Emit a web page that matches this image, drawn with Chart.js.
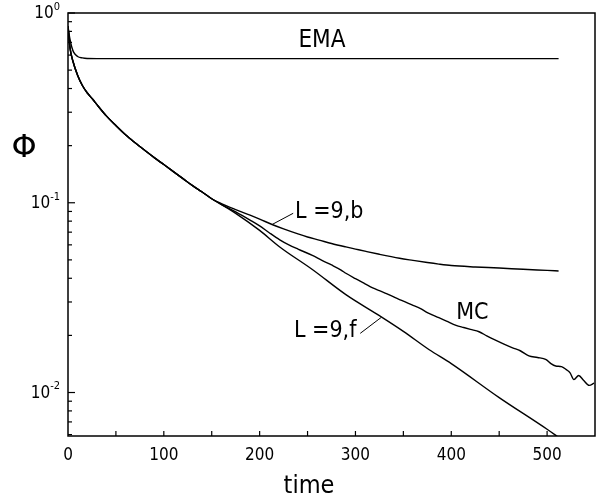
<!DOCTYPE html>
<html>
<head>
<meta charset="utf-8">
<script src="https://cdn.jsdelivr.net/npm/chart.js@4"></script>
<style>
  html, body { margin: 0; background: #fff; }
</style>
</head>
<body>
<canvas id="chart" width="597" height="500"></canvas>
<script>
// Curve data (time, phi)
const emaTime = [0, 2, 4, 6, 10, 15, 20, 30, 100, 200, 300, 400, 512];
const emaPhi = [0.85, 0.73, 0.66, 0.62, 0.59, 0.58, 0.576, 0.575, 0.575, 0.575, 0.575, 0.575, 0.575];

// common early part shared by MC and the two L=9 curves
const commonTime = [0, 2, 5, 10, 15, 20, 26, 30, 40, 50, 60, 70, 80, 90, 100, 110, 120, 130, 140];
const commonPhi = [0.85, 0.66, 0.56, 0.47, 0.415, 0.38, 0.35, 0.33, 0.287, 0.255, 0.228, 0.207, 0.189, 0.173, 0.159, 0.146, 0.134, 0.123, 0.114];

const bTime = [150, 160, 175, 190, 200, 213, 225, 240, 250, 262, 275, 290, 300, 311, 325, 346, 360, 375, 387, 400, 425, 450, 475, 500, 512];
const bPhi = [0.105, 0.099, 0.092, 0.086, 0.082, 0.0768, 0.0728, 0.0685, 0.066, 0.0636, 0.061, 0.0585, 0.057, 0.0554, 0.0535, 0.051, 0.0497, 0.0484, 0.0475, 0.0467, 0.0459, 0.0453, 0.0446, 0.044, 0.0437];

const mcTime = [150, 160, 175, 190, 200, 210, 221, 230, 240, 255, 265, 275, 285, 290, 300, 310, 318, 325, 333, 340, 350, 359, 368, 375, 387, 395, 405, 413, 420, 429, 437, 445, 455, 464, 472, 481, 490, 499, 504, 509, 515, 520, 524, 528, 533, 538, 544, 549];
const mcPhi = [0.105, 0.098, 0.0895, 0.081, 0.0755, 0.0695, 0.0638, 0.0602, 0.057, 0.0528, 0.0497, 0.047, 0.0442, 0.0425, 0.0398, 0.0374, 0.0356, 0.0344, 0.0331, 0.0319, 0.0303, 0.029, 0.0277, 0.0264, 0.0248, 0.0238, 0.0226, 0.022, 0.0215, 0.0209, 0.0199, 0.019, 0.018, 0.0172, 0.0166, 0.0156, 0.0153, 0.0149, 0.0142, 0.0138, 0.0137, 0.0132, 0.0127, 0.0117, 0.0123, 0.0116, 0.0109, 0.0112];

const fTime = [150, 175, 200, 221, 255, 290, 325, 350, 377, 400, 450, 500, 512];
const fPhi = [0.105, 0.088, 0.0715, 0.0585, 0.0445, 0.0328, 0.0254, 0.021, 0.0168, 0.0142, 0.0094, 0.0064, 0.0058];

const xTicks = [0, 100, 200, 300, 400, 500];
const yDecades = [0, -1, -2];

const FONT = '"Liberation Sans Narrow", "DejaVu Sans Condensed", sans-serif';

function toPoints(ts, ys) {
    return ts.map((t, i) => ({ x: t, y: ys[i] }));
}

function lineSet(label, ts, ys) {
    return {
        label: label,
        data: toPoints(ts, ys),
        borderColor: '#000',
        borderWidth: 1.4,
        pointRadius: 0,
        cubicInterpolationMode: 'monotone',
        fill: false
    };
}

const allTime = t => commonTime.concat(t);
const allPhi = p => commonPhi.concat(p);

// frame, inward ticks, labels and leaders
const decorPlugin = {
    id: 'decor',
    afterDraw(chart) {
        const ctx = chart.ctx;
        const area = chart.chartArea;
        const xs = chart.scales.x;
        const ys = chart.scales.y;
        ctx.save();
        ctx.strokeStyle = '#000';
        ctx.lineWidth = 1.5;
        ctx.strokeRect(area.left, area.top, area.right - area.left, area.bottom - area.top);

        // x ticks every 50, pointing up
        ctx.lineWidth = 1.2;
        for (let t = 50; t < 550; t += 50) {
            const px = xs.getPixelForValue(t);
            ctx.beginPath();
            ctx.moveTo(px, area.bottom);
            ctx.lineTo(px, area.bottom - 5);
            ctx.stroke();
        }
        // y log ticks, pointing right
        for (let d = -3; d <= 0; d++) {
            for (let m = 1; m <= 9; m++) {
                const v = m * Math.pow(10, d);
                if (v < ys.min || v > ys.max) continue;
                const py = ys.getPixelForValue(v);
                ctx.beginPath();
                ctx.moveTo(area.left, py);
                ctx.lineTo(area.left + (m === 1 ? 7 : 4), py);
                ctx.stroke();
            }
        }

        ctx.fillStyle = '#000';
        ctx.textBaseline = 'middle';

        // y tick labels with raised exponents
        yDecades.forEach(d => {
            const py = ys.getPixelForValue(Math.pow(10, d));
            const exp = d === 0 ? '0' : '-' + (-d);
            ctx.font = '11px ' + FONT;
            const ew = ctx.measureText(exp).width;
            const ex = area.left - 8 - ew;
            ctx.textAlign = 'left';
            ctx.fillText(exp, ex, py - 6);
            ctx.font = '17px ' + FONT;
            ctx.textAlign = 'right';
            ctx.fillText('10', ex, py + 1);
        });

        ctx.font = '24px ' + FONT;
        ctx.textAlign = 'center';
        ctx.fillText('EMA', xs.getPixelForValue(265), ys.getPixelForValue(0.713));
        ctx.font = '23px ' + FONT;
        ctx.fillText('MC', xs.getPixelForValue(422), ys.getPixelForValue(0.0262));
        ctx.textAlign = 'left';
        ctx.fillText('L =9,b', xs.getPixelForValue(237), ys.getPixelForValue(0.0897));
        ctx.textAlign = 'right';
        ctx.fillText('L =9,f', xs.getPixelForValue(301), ys.getPixelForValue(0.0211));

        // leader lines
        ctx.lineWidth = 1;
        ctx.beginPath();
        ctx.moveTo(xs.getPixelForValue(213), ys.getPixelForValue(0.0768));
        ctx.lineTo(xs.getPixelForValue(235), ys.getPixelForValue(0.088));
        ctx.moveTo(xs.getPixelForValue(305), ys.getPixelForValue(0.0205));
        ctx.lineTo(xs.getPixelForValue(327), ys.getPixelForValue(0.0249));
        ctx.stroke();

        // axis titles
        ctx.textAlign = 'center';
        ctx.font = '32px "DejaVu Sans", sans-serif';
        ctx.fillText('\u03A6', 24, 149);
        ctx.font = '25px ' + FONT;
        ctx.fillText('time', 309, 486);
        ctx.restore();
    }
};

new Chart(document.getElementById('chart'), {
    type: 'line',
    data: {
        datasets: [
            lineSet('EMA', emaTime, emaPhi),
            lineSet('L=9,b', allTime(bTime), allPhi(bPhi)),
            lineSet('MC', allTime(mcTime), allPhi(mcPhi)),
            lineSet('L=9,f', allTime(fTime), allPhi(fPhi))
        ]
    },
    options: {
        responsive: false,
        animation: false,
        layout: { padding: { top: 13, right: 2, left: 0, bottom: 0 } },
        plugins: {
            legend: { display: false },
            tooltip: { enabled: false }
        },
        scales: {
            x: {
                type: 'linear',
                min: 0,
                max: 550,
                afterFit: s => { s.height = 64; },
                afterBuildTicks: s => { s.ticks = xTicks.map(v => ({ value: v })); },
                grid: { display: false, drawTicks: false },
                border: { display: false },
                ticks: {
                    padding: 9,
                    color: '#000',
                    font: { family: FONT, size: 17 },
                    maxRotation: 0
                }
            },
            y: {
                type: 'logarithmic',
                min: 0.0059,
                max: 1,
                afterFit: s => { s.width = 68; },
                grid: { display: false, drawTicks: false },
                border: { display: false },
                ticks: { display: false }
            }
        }
    },
    plugins: [decorPlugin]
});
</script>
</body>
</html>
